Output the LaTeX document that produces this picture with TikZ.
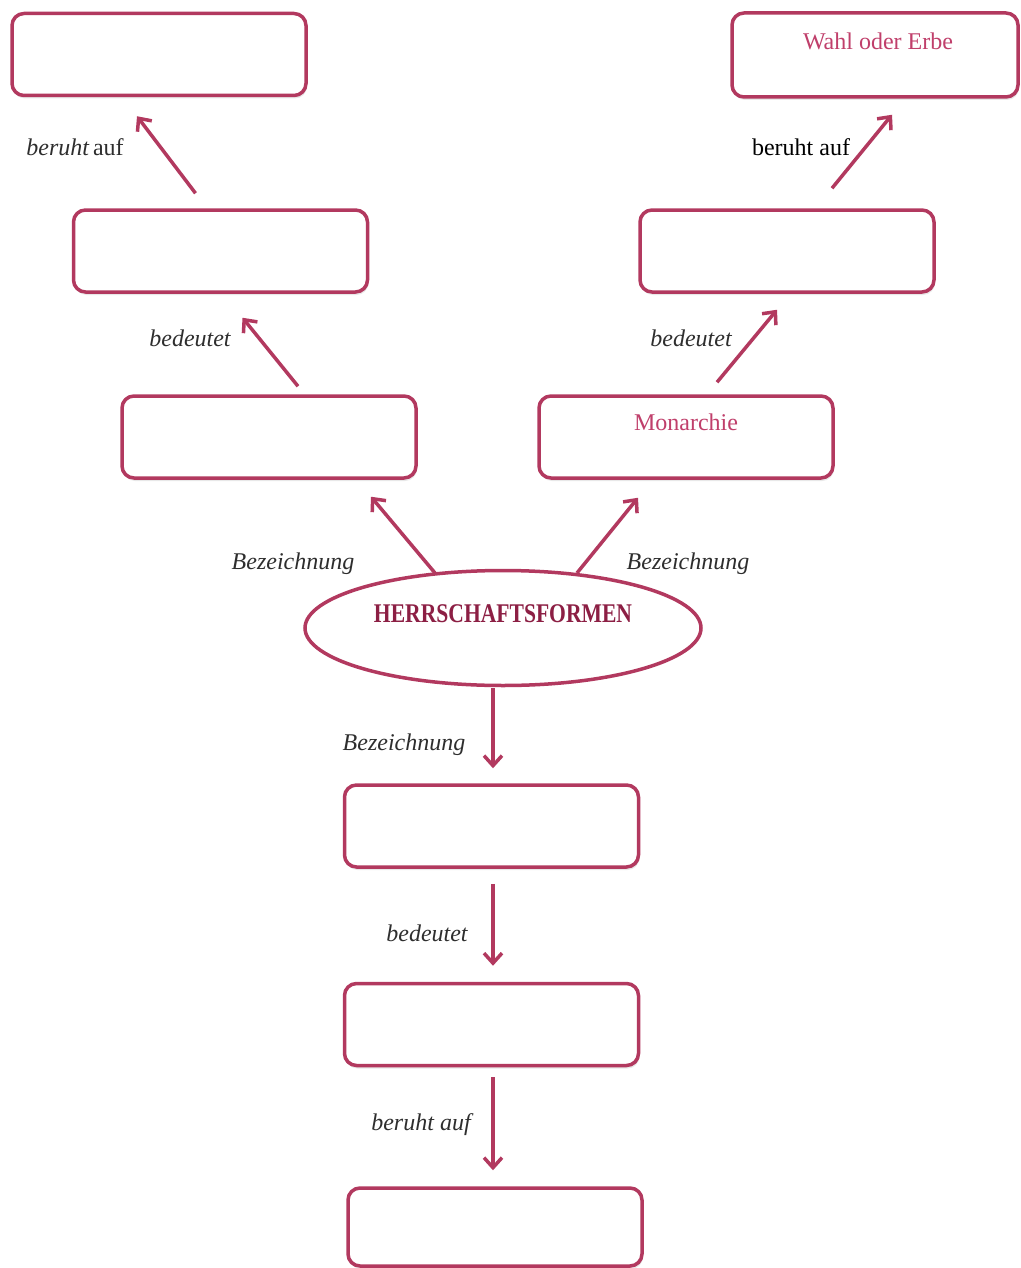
\documentclass[tikz,border=0pt]{standalone}
\usepackage{fontspec}
\setmainfont{Liberation Serif}
\usetikzlibrary{arrows.meta,shapes.geometric,calc,shadows}
\definecolor{rose}{HTML}{B2395F}
\definecolor{rosetext}{HTML}{C03F6B}
\definecolor{darkrose}{HTML}{8C1F44}
\definecolor{lbl}{HTML}{2E2E2E}
\tikzset{
  box/.style={draw=rose, line width=3.5pt, rounded corners=12pt, fill=white,
    minimum width=294pt, minimum height=82pt, inner sep=0pt,
    drop shadow={opacity=0.18, shadow xshift=1pt, shadow yshift=-3pt}},
  arr/.style={draw=rose, line width=3.5pt, -{Straight Barb[length=10pt,width=18pt,line width=3.5pt]}},
  boxtext/.style={text=rosetext, font=\fontsize{24}{28}\selectfont, inner sep=0pt},
  lab/.style={text=lbl, font=\fontsize{24}{28}\selectfont\itshape, inner sep=0pt},
}
\begin{document}
\begin{tikzpicture}[x=1pt,y=-1pt]
\useasboundingbox (0,0) rectangle (1020,1268);
% boxes
\node[box] (b1) at (159,54.5) {};
\node[box] (b2) at (220.5,251) {};
\node[box] (b3) at (269,437) {};
\node[box, minimum width=286pt, minimum height=84pt] (b4) at (875,55) {};
\node[box] (b5) at (787,251) {};
\node[box] (b6) at (686,437) {};
\node[box] (b7) at (491.5,826) {};
\node[box] (b8) at (491.5,1024.5) {};
\node[box, minimum height=78pt] (b9) at (495,1227) {};
\node[ellipse, draw=rose, line width=3.5pt, minimum width=396pt, minimum height=115pt, fill=white] (ell) at (503,628) {};
% texts in boxes
\node[boxtext] (t4) at ($(b4.north)+(3,30)$) {Wahl oder Erbe};
\node[boxtext] (t6) at ($(b6.north)+(0,28)$) {Monarchie};
\node[text=darkrose, font=\fontsize{27}{30}\selectfont\bfseries, xscale=0.8, transform shape, inner sep=0pt] (t0) at ($(ell.center)+(0,-14)$) {HERRSCHAFTSFORMEN};
% arrows
\draw[arr] ($(b2.north)+(-25,-15)$) -- ($(b1.south)+(-22,19)$);
\draw[arr] ($(b3.north)+(29,-8)$) -- ($(b2.south)+(22,24)$);
\draw[arr] ($(ell.center)+(-68,-55)$) -- ($(b3.south)+(102,17)$);
\draw[arr] ($(ell.center)+(74,-55)$) -- ($(b6.south)+(-48,18)$);
\draw[arr] ($(b6.north)+(31,-12)$) -- ($(b5.south)+(-10,16)$);
\draw[arr] ($(b5.north)+(45,-20)$) -- ($(b4.south)+(17,16)$);
\draw[arr] ($(ell.south)+(-10,1)$) -- ($(b7.north)+(1.5,-15)$);
\draw[arr] ($(b7.south)+(1.5,15)$) -- ($(b8.north)+(1.5,-16)$);
\draw[arr] ($(b8.south)+(1.5,10)$) -- ($(b9.north)+(-2,-16)$);
% labels
\node[lab] (l1) at (75,147) {beruht\,\upshape auf};
\node[text=black, font=\fontsize{24}{28}\selectfont, inner sep=0pt] (l4) at (801,147) {beruht auf};
\node[lab] (l2) at (190,338) {bedeutet};
\node[lab] (l5) at (691,338) {bedeutet};
\node[lab] (l3) at (293,564) {Bezeichnung};
\node[lab] (l6) at (688,564) {Bezeichnung};
\node[lab] (l7) at (404,745) {Bezeichnung};
\node[lab] (l8) at (427,933) {bedeutet};
\node[lab] (l9) at (421,1125) {beruht auf};
\end{tikzpicture}
\end{document}
